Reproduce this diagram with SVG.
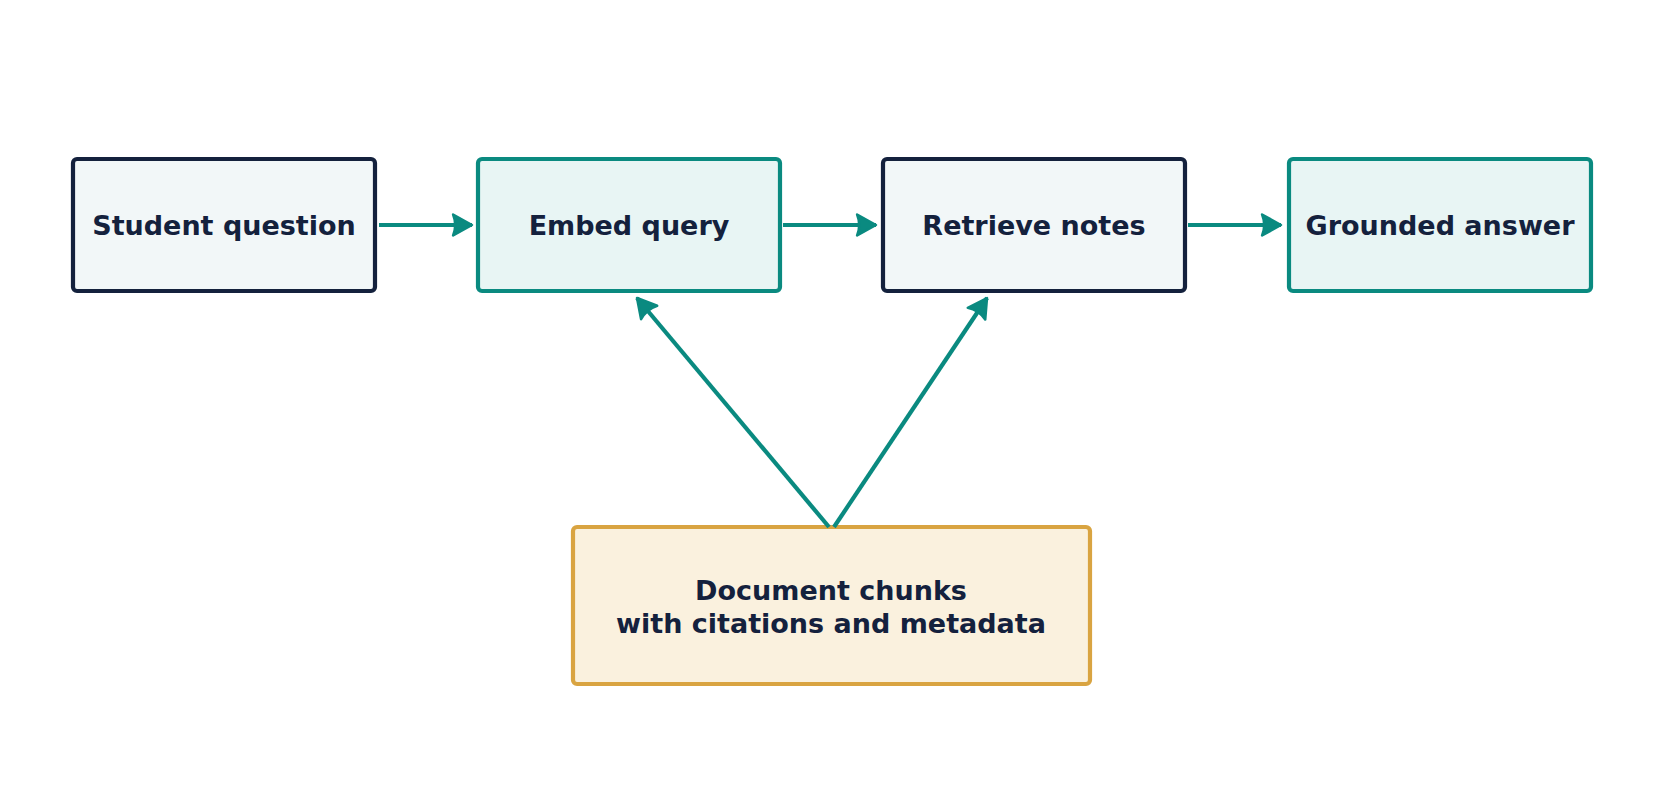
<svg xmlns="http://www.w3.org/2000/svg" width="1663" height="806" viewBox="0 0 1663 806">
<style>
.box{stroke-width:4.2}
.dark{fill:#f2f7f8;stroke:#14213d}
.teal{fill:#e8f5f4;stroke:#0a8a80}
.gold{fill:#faf1de;stroke:#d9a441}
text{font-family:"DejaVu Sans",sans-serif;font-weight:bold;font-size:27px;fill:#14213d;text-anchor:middle;dominant-baseline:central}
.c{stroke:#0a8a80;stroke-width:4.2;fill:none;marker-end:url(#a)}
</style>
<defs><marker id="a" markerWidth="6" markerHeight="6" refX="5" refY="3" orient="auto" markerUnits="strokeWidth"><path d="M0.5,0.5 L5,3 L0.5,5.5 Q1.5,3 0.5,0.5 Z" fill="#0a8a80" stroke="#0a8a80" stroke-width="0.6" stroke-linejoin="round"/></marker></defs>
<rect width="1663" height="806" fill="#fff"/>
<g id="n1"><rect class="box dark" x="73" y="159" width="302" height="132" rx="4"/><text x="224" y="225">Student question</text></g>
<g id="n2"><rect class="box teal" x="478" y="159" width="302" height="132" rx="4"/><text x="629" y="225">Embed query</text></g>
<g id="n3"><rect class="box dark" x="883" y="159" width="302" height="132" rx="4"/><text x="1034" y="225">Retrieve notes</text></g>
<g id="n4"><rect class="box teal" x="1289" y="159" width="302" height="132" rx="4"/><text x="1440" y="225">Grounded answer</text></g>
<g id="n5"><rect class="box gold" x="573" y="527" width="517" height="157" rx="4"/><text x="831" y="590">Document chunks</text><text x="831" y="623">with citations and metadata</text></g>
<g id="connectors">
<path class="c" d="M379,225 L472,225"/>
<path class="c" d="M783,225 L876,225"/>
<path class="c" d="M1188,225 L1281,225"/>
<path class="c" d="M829,527 L637,298"/>
<path class="c" d="M834,527 L987,298"/>
</g>
</svg>
